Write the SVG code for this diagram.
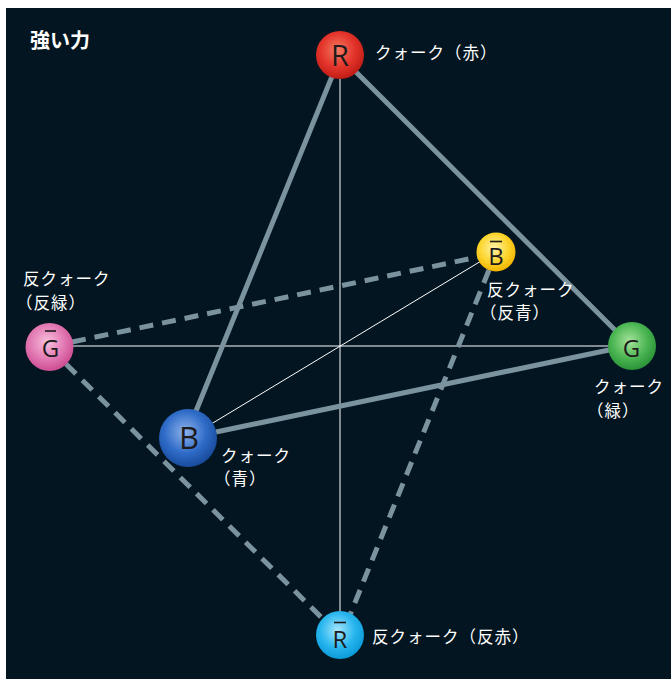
<svg xmlns="http://www.w3.org/2000/svg" width="671" height="679" viewBox="0 0 671 679">
<style>
.bg{fill:#021520}
.thin{stroke:#ffffff;stroke-width:1;fill:none}
.solid{stroke:#7b939f;stroke-width:5;fill:none}
.dash{stroke:#7b939f;stroke-width:5;fill:none;stroke-dasharray:14 9}
.lbl{font-family:"Noto Sans CJK JP","Noto Sans",sans-serif;font-size:16.5px;letter-spacing:1px;fill:#ffffff}
.ttl{font-family:"Noto Sans CJK JP","Noto Sans",sans-serif;font-size:20px;font-weight:bold;fill:#ffffff}
.let{font-family:"Open Sans","Noto Sans",sans-serif;fill:#1e1b1c;text-anchor:middle}
.bar{stroke:#1e1b1c;stroke-width:1.6}
</style>
<defs>
<radialGradient id="gR" cx="0.45" cy="0.4" r="0.6"><stop offset="0" stop-color="#f47a62"/><stop offset="0.6" stop-color="#e3342a"/><stop offset="1" stop-color="#c11d17"/></radialGradient>
<radialGradient id="gY" cx="0.45" cy="0.4" r="0.6"><stop offset="0" stop-color="#fff3a8"/><stop offset="0.6" stop-color="#fdd630"/><stop offset="1" stop-color="#f2b400"/></radialGradient>
<radialGradient id="gP" cx="0.45" cy="0.4" r="0.6"><stop offset="0" stop-color="#f7c0dd"/><stop offset="0.6" stop-color="#e279b3"/><stop offset="1" stop-color="#cd4d94"/></radialGradient>
<radialGradient id="gG" cx="0.45" cy="0.4" r="0.6"><stop offset="0" stop-color="#a6e39c"/><stop offset="0.6" stop-color="#4cb653"/><stop offset="1" stop-color="#2a9338"/></radialGradient>
<radialGradient id="gB" cx="0.45" cy="0.4" r="0.6"><stop offset="0" stop-color="#8fb2ea"/><stop offset="0.6" stop-color="#2f6cc8"/><stop offset="1" stop-color="#184b9c"/></radialGradient>
<radialGradient id="gC" cx="0.45" cy="0.4" r="0.6"><stop offset="0" stop-color="#a6e6fb"/><stop offset="0.6" stop-color="#29b6ef"/><stop offset="1" stop-color="#0b9bd8"/></radialGradient>
</defs>
<rect class="bg" x="6" y="8" width="665" height="671"/>
<text class="ttl" x="30" y="48">強い力</text>
<g id="connectors">
<line class="thin" x1="340" y1="79" x2="340" y2="611"/>
<line class="thin" x1="73" y1="346" x2="608" y2="346"/>
<line class="thin" x1="188" y1="438" x2="496" y2="252"/>
<line class="solid" x1="333" y1="74" x2="196" y2="411"/>
<line class="solid" x1="355" y1="71" x2="617" y2="332"/>
<line class="solid" x1="216" y1="432" x2="609" y2="350"/>
<line class="dash" x1="72" y1="342" x2="478" y2="257"/>
<line class="dash" x1="66" y1="364" x2="324" y2="620"/>
<line class="dash" x1="489" y1="270" x2="350" y2="615"/>
</g>
<g id="R">
<circle cx="340" cy="55" r="24" fill="url(#gR)"/>
<text class="let" x="340" y="65.5" font-size="29">R</text>
<text class="lbl" x="375" y="59">クォーク（赤）</text>
</g>
<g id="antiB">
<circle cx="496" cy="252" r="19.5" fill="url(#gY)"/>
<text class="let" x="496" y="264.5" font-size="24">B</text>
<line class="bar" x1="490" y1="241.5" x2="502" y2="241.5"/>
<text class="lbl" x="487" y="296">反クォーク</text>
<text class="lbl" x="480" y="319">（反青）</text>
</g>
<g id="antiG">
<circle cx="49.5" cy="347" r="24" fill="url(#gP)"/>
<text class="let" x="50.5" y="357" font-size="24">G</text>
<line class="bar" x1="45" y1="331" x2="56" y2="331"/>
<text class="lbl" x="23" y="285">反クォーク</text>
<text class="lbl" x="16" y="309">（反緑）</text>
</g>
<g id="G">
<circle cx="632" cy="346" r="24" fill="url(#gG)"/>
<text class="let" x="631.5" y="357" font-size="24">G</text>
<text class="lbl" x="594" y="393">クォーク</text>
<text class="lbl" x="587" y="417">（緑）</text>
</g>
<g id="B">
<circle cx="188" cy="438" r="29" fill="url(#gB)"/>
<text class="let" x="189" y="449" font-size="31">B</text>
<text class="lbl" x="221" y="462">クォーク</text>
<text class="lbl" x="214" y="485">（青）</text>
</g>
<g id="antiR">
<circle cx="340" cy="635" r="24" fill="url(#gC)"/>
<text class="let" x="340" y="648" font-size="24">R</text>
<line class="bar" x1="334" y1="622.5" x2="346" y2="622.5"/>
<text class="lbl" x="372" y="643">反クォーク（反赤）</text>
</g>
</svg>
